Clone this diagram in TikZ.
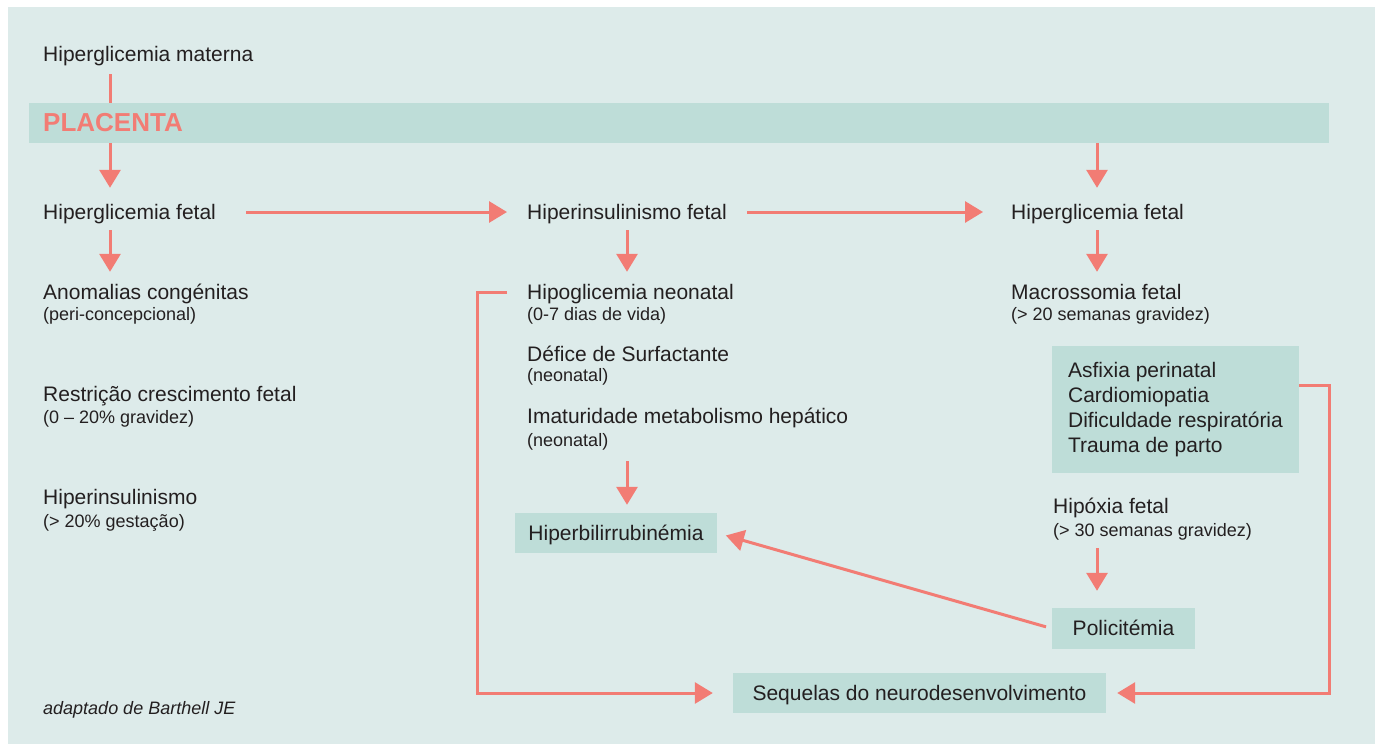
\documentclass[tikz,border=0pt]{standalone}
\usepackage{fontspec}
\setmainfont{Liberation Sans}
\usetikzlibrary{arrows.meta}
\definecolor{bgc}{HTML}{DDEBEA}
\definecolor{boxc}{HTML}{BEDDD8}
\definecolor{arc}{HTML}{F27C74}
\definecolor{txc}{HTML}{231F20}
\tikzset{
  main/.style={anchor=base west, inner sep=0pt, text=txc, font=\fontsize{21}{25}\selectfont, text height=16pt, text depth=2pt},
  small/.style={anchor=base west, inner sep=0pt, text=txc, font=\fontsize{18}{21}\selectfont, text height=13pt, text depth=2pt},
  box/.style={fill=boxc, inner sep=0pt, text=txc, font=\fontsize{21}{25}\selectfont},
  onebox/.style={box, text height=16pt, text depth=2pt},
  con/.style={draw=arc, line width=3pt},
  arr/.style={con, -{Triangle[length=18pt,width=21pt]}}
}
\begin{document}
\begin{tikzpicture}[x=1pt,y=-1pt]
\useasboundingbox (0,0) rectangle (1375,744);
\fill[bgc] (8,7) rectangle (1375,744);
% columns
\coordinate (cA) at (110,0);
\coordinate (cB) at (627,0);
\coordinate (cC) at (1097,0);
% band
\node[fill=boxc, anchor=north west, minimum height=40pt, text width=1272pt, inner xsep=14pt, inner ysep=0pt, align=left, text height=17.5pt, text depth=0pt, text=arc, font=\bfseries\fontsize{26}{30}\selectfont] (band) at (29,103) {PLACENTA};
% text nodes
\node[main] (mat) at (43,61) {Hiperglicemia materna};
\node[main] (hf1) at (43,219) {Hiperglicemia fetal};
\node[main] (hi) at (527,219) {Hiperinsulinismo fetal};
\node[main] (hf3) at (1011,219) {Hiperglicemia fetal};
\node[main] (ano) at (43,299) {Anomalias congénitas};
\node[small] (ano2) at (43,320) {(peri-concepcional)};
\node[main] (res) at (43,401) {Restrição crescimento fetal};
\node[small] (res2) at (43,423) {(0 – 20\% gravidez)};
\node[main] (hin) at (43,504) {Hiperinsulinismo};
\node[small] (hin2) at (43,527) {(> 20\% gestação)};
\node[main] (hipo) at (527,299) {Hipoglicemia neonatal};
\node[small] (hipo2) at (527,320) {(0-7 dias de vida)};
\node[main] (def) at (527,361) {Défice de Surfactante};
\node[small] (def2) at (527,381) {(neonatal)};
\node[main] (ima) at (527,423) {Imaturidade metabolismo hepático};
\node[small] (ima2) at (527,446) {(neonatal)};
\node[main] (mac) at (1011,299) {Macrossomia fetal};
\node[small] (mac2) at (1011,320) {(> 20 semanas gravidez)};
\node[main] (hpx) at (1053,513) {Hipóxia fetal};
\node[small] (hpx2) at (1053,536) {(> 30 semanas gravidez)};
\node[small, font=\itshape\fontsize{18}{21}\selectfont] (src) at (43,714) {adaptado de Barthell JE};
% boxes
\node[onebox, minimum width=202pt, minimum height=40pt] (hb) at (616,533) {Hiperbilirrubinémia};
\node[onebox, minimum width=143pt, minimum height=41pt] (pol) at (1123.5,628.5) {Policitémia};
\node[onebox, minimum width=373pt, minimum height=40pt] (seq) at (919.5,693) {Sequelas do neurodesenvolvimento};
\node[box, minimum width=247pt, minimum height=127pt, align=left] (asf) at (1175.5,409.5) {Asfixia perinatal\\Cardiomiopatia\\Dificuldade respiratória\\Trauma de parto};
% connectors
\draw[con, shorten <=11pt] (cA |- mat.south) -- (cA |- band.north);
\draw[arr, shorten >=15pt] (cA |- band.south) -- (cA |- hf1.north);
\draw[arr, shorten >=15pt] (cC |- band.south) -- (cC |- hf3.north);
\draw[arr, shorten <=30pt, shorten >=20pt] (hf1.east) -- (hi.west);
\draw[arr, shorten <=20.5pt, shorten >=28pt] (hi.east) -- (hf3.west);
\draw[arr, shorten <=9pt, shorten >=11pt] (cA |- hf1.south) -- (cA |- ano.north);
\draw[arr, shorten <=9pt, shorten >=11pt] (cB |- hi.south) -- (cB |- hipo.north);
\draw[arr, shorten <=9pt, shorten >=11pt] (cC |- hf3.south) -- (cC |- mac.north);
\draw[arr, shorten <=13pt, shorten >=8pt] (cB |- ima2.south) -- (cB |- hb.north);
\draw[arr, shorten <=10pt, shorten >=17pt] (cC |- hpx2.south) -- (cC |- pol.north);
\draw[arr, shorten <=6pt, shorten >=9pt] (pol.west) -- (hb.east);
\draw[arr, shorten >=11pt] ([yshift=24.5pt]asf.east) -- ++(30,0) |- (seq.east);
\draw[arr, shorten >=20pt] ([xshift=-20pt]hipo.west) -- ++(-30,0) |- (seq.west);
\end{tikzpicture}
\end{document}
